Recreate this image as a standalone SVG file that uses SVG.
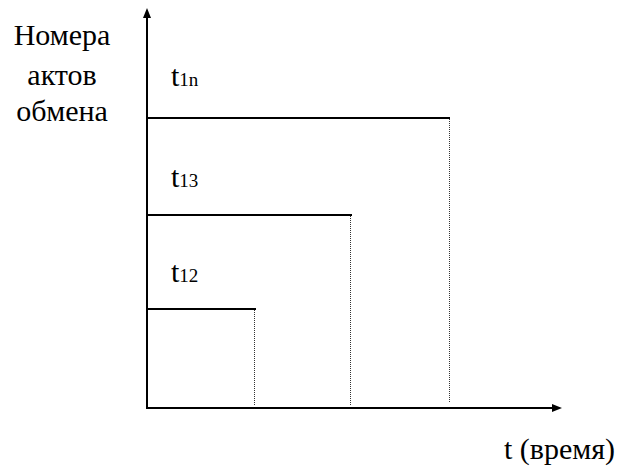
<svg xmlns="http://www.w3.org/2000/svg" width="617" height="471" viewBox="0 0 617 471">
<style>
.t{font-family:'Liberation Serif','DejaVu Serif','Times New Roman',serif;fill:#000}
.ax{stroke:#000;stroke-width:2;fill:none}
.lv{stroke:#000;stroke-width:2;fill:none}
.dot{stroke:#333;stroke-width:1;stroke-dasharray:1 1;fill:none}
</style>
<rect width="617" height="471" fill="#fff"/>
<g id="axes">
<line class="ax" x1="147" y1="409" x2="147" y2="17"/>
<polygon points="147,8 143,18 151,18" fill="#000"/>
<line class="ax" x1="146" y1="408" x2="553" y2="408"/>
<polygon points="562,408 552,404 552,412" fill="#000"/>
</g>
<g id="connectors">
<line class="lv" x1="147" y1="118" x2="450" y2="118"/>
<line class="lv" x1="147" y1="215" x2="352" y2="215"/>
<line class="lv" x1="147" y1="309" x2="256" y2="309"/>
<line class="dot" x1="449.5" y1="119" x2="449.5" y2="402"/>
<line class="dot" x1="350.5" y1="216" x2="350.5" y2="405"/>
<line class="dot" x1="254.5" y1="310" x2="254.5" y2="406"/>
</g>
<g id="ylabel">
<text class="t" font-size="30" text-anchor="middle" x="62" y="45">Номера</text>
<text class="t" font-size="30" text-anchor="middle" x="62" y="85">актов</text>
<text class="t" font-size="30" text-anchor="middle" x="62" y="121">обмена</text>
</g>
<g id="t1n"><text class="t" x="171" y="86" font-size="30">t<tspan font-size="19">1n</tspan></text></g>
<g id="t13"><text class="t" x="171" y="187" font-size="30">t<tspan font-size="19">13</tspan></text></g>
<g id="t12"><text class="t" x="171" y="282" font-size="30">t<tspan font-size="19">12</tspan></text></g>
<g id="xlabel"><text class="t" x="615" y="459" font-size="30" text-anchor="end">t (время)</text></g>
</svg>
